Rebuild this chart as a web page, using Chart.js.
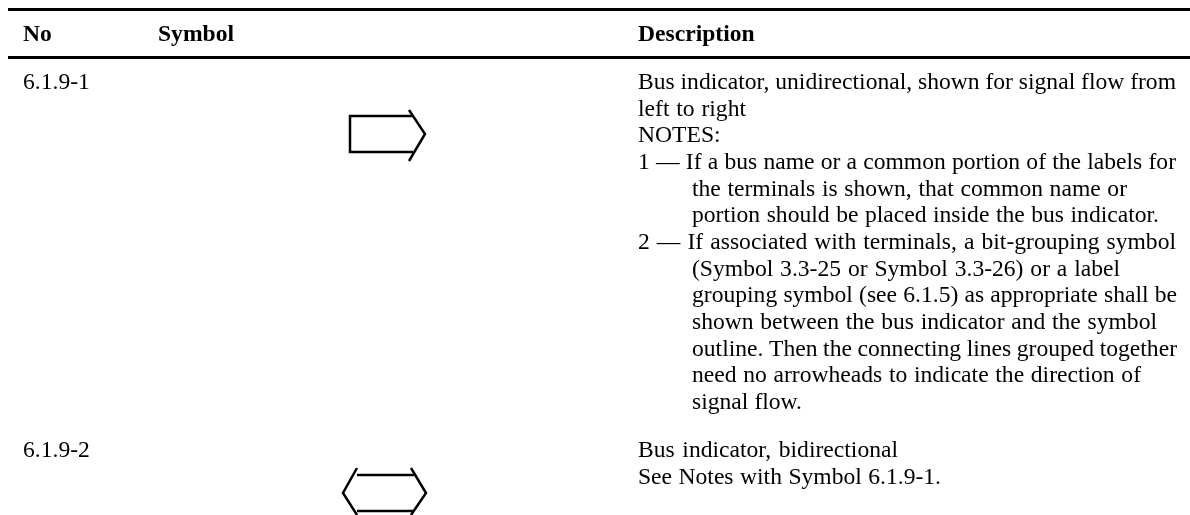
<!DOCTYPE html>
<html>
<head>
<meta charset="utf-8">
<style>
  html, body { margin: 0; padding: 0; background: #fff; }
  #wrap { width: 1190px; height: 515px; }
</style>
<script src="https://cdn.jsdelivr.net/npm/chart.js@4/dist/chart.umd.min.js"></script>
</head>
<body>
<div id="wrap"><canvas id="table-chart" width="1190" height="515"></canvas></div>
<script>
// table text
const HEADERS = ['No', 'Symbol', 'Description'];
const ROW_NUMBERS = ['6.1.9-1', '6.1.9-2'];
const DESC_LINES = [
  'Bus indicator, unidirectional, shown for signal flow from',
  'left to right',
  'NOTES:',
  '1 — If a bus name or a common portion of the labels for',
  'the terminals is shown, that common name or',
  'portion should be placed inside the bus indicator.',
  '2 — If associated with terminals, a bit-grouping symbol',
  '(Symbol 3.3-25 or Symbol 3.3-26) or a label',
  'grouping symbol (see 6.1.5) as appropriate shall be',
  'shown between the bus indicator and the symbol',
  'outline. Then the connecting lines grouped together',
  'need no arrowheads to indicate the direction of',
  'signal flow.',
];
const DESC2_LINES = [
  'Bus indicator, bidirectional',
  'See Notes with Symbol 6.1.9-1.',
];

// the two bus indicator outlines
const BUS_UNI_BODY = [[413, 116], [350, 116], [350, 152], [413, 152]];
const BUS_UNI_HEAD = [[409, 110], [425, 134], [409, 161]];
const BUS_BI_TOP = [[357, 475], [414, 475]];
const BUS_BI_BOTTOM = [[357, 511], [414, 511]];
const BUS_BI_LEFT = [[357, 468], [343, 493], [357, 515]];
const BUS_BI_RIGHT = [[411, 468], [426, 493], [411, 515]];

// layout of the table, in page units
const RULE_ROWS = [9.5, 57.5];
const RULE_SPAN = [8, 1190];
const HEADER_X = [23, 158, 638];
const HEADER_Y = 41;
const ROW_Y = [89, 457];
const COL_NO = 23;
const COL_DESC = 638;
const COL_INDENT = 692;
const INDENTED = [4, 5, 7, 8, 9, 10, 11, 12];
const LINE_STEP = 26.67;
const LINE_STEP2 = 27;
// where each description line ends
const DESC_ENDS = [1176, 746, 720, 1176, 1127, 1159, 1176, 1120, 1177, 1157, 1177, 1141, 802];
const DESC2_ENDS = [898, 941];

function lineSet(points, width) {
  return {
    type: 'line',
    data: points.map(function (p) { return { x: p[0], y: p[1] }; }),
    borderColor: '#000000',
    borderWidth: width,
    pointRadius: 0,
    tension: 0,
    fill: false,
  };
}

// all the table text goes through the scales as well
const tableText = {
  id: 'tableText',
  afterDatasetsDraw(chart) {
    const c = chart.ctx;
    const sx = chart.scales.x;
    const sy = chart.scales.y;

    // stretch the word gaps so the line ends where it does in the reference
    function fitted(text, x, y, end) {
      const gaps = text.split(' ').length - 1;
      c.wordSpacing = '0px';
      const extra = gaps ? (end - x - c.measureText(text).width) / gaps : 0;
      c.wordSpacing = extra + 'px';
      c.fillText(text, sx.getPixelForValue(x), sy.getPixelForValue(y));
      c.wordSpacing = '0px';
    }

    c.save();
    c.fillStyle = '#000000';
    c.textBaseline = 'alphabetic';
    c.font = 'bold 23.6px "Liberation Serif"';
    HEADERS.forEach(function (h, i) { c.fillText(h, sx.getPixelForValue(HEADER_X[i]), sy.getPixelForValue(HEADER_Y)); });
    c.font = '23.6px "Liberation Serif"';
    ROW_NUMBERS.forEach(function (r, i) { c.fillText(r, sx.getPixelForValue(COL_NO), sy.getPixelForValue(ROW_Y[i])); });
    DESC_LINES.forEach(function (l, i) {
      const x = INDENTED.includes(i) ? COL_INDENT : COL_DESC;
      fitted(l, x, ROW_Y[0] + i * LINE_STEP, DESC_ENDS[i]);
    });
    DESC2_LINES.forEach(function (l, i) {
      fitted(l, COL_DESC, ROW_Y[1] + i * LINE_STEP2, DESC2_ENDS[i]);
    });
    c.restore();
  },
};

new Chart(document.getElementById('table-chart'), {
  type: 'line',
  data: {
    datasets: RULE_ROWS.map(function (y) {
      return lineSet([[RULE_SPAN[0], y], [RULE_SPAN[1], y]], 3);
    }).concat([
      lineSet(BUS_UNI_BODY, 2.5),
      lineSet(BUS_UNI_HEAD, 2.5),
      lineSet(BUS_BI_TOP, 2.5),
      lineSet(BUS_BI_BOTTOM, 2.5),
      lineSet(BUS_BI_LEFT, 2.5),
      lineSet(BUS_BI_RIGHT, 2.5),
    ]),
  },
  options: {
    responsive: false,
    animation: false,
    layout: { padding: 0 },
    plugins: { legend: { display: false }, title: { display: false }, tooltip: { enabled: false } },
    scales: {
      x: { type: 'linear', display: false, min: 0, max: 1190 },
      y: { type: 'linear', display: false, min: 0, max: 515, reverse: true },
    },
  },
  plugins: [tableText],
});
</script>
</body>
</html>
